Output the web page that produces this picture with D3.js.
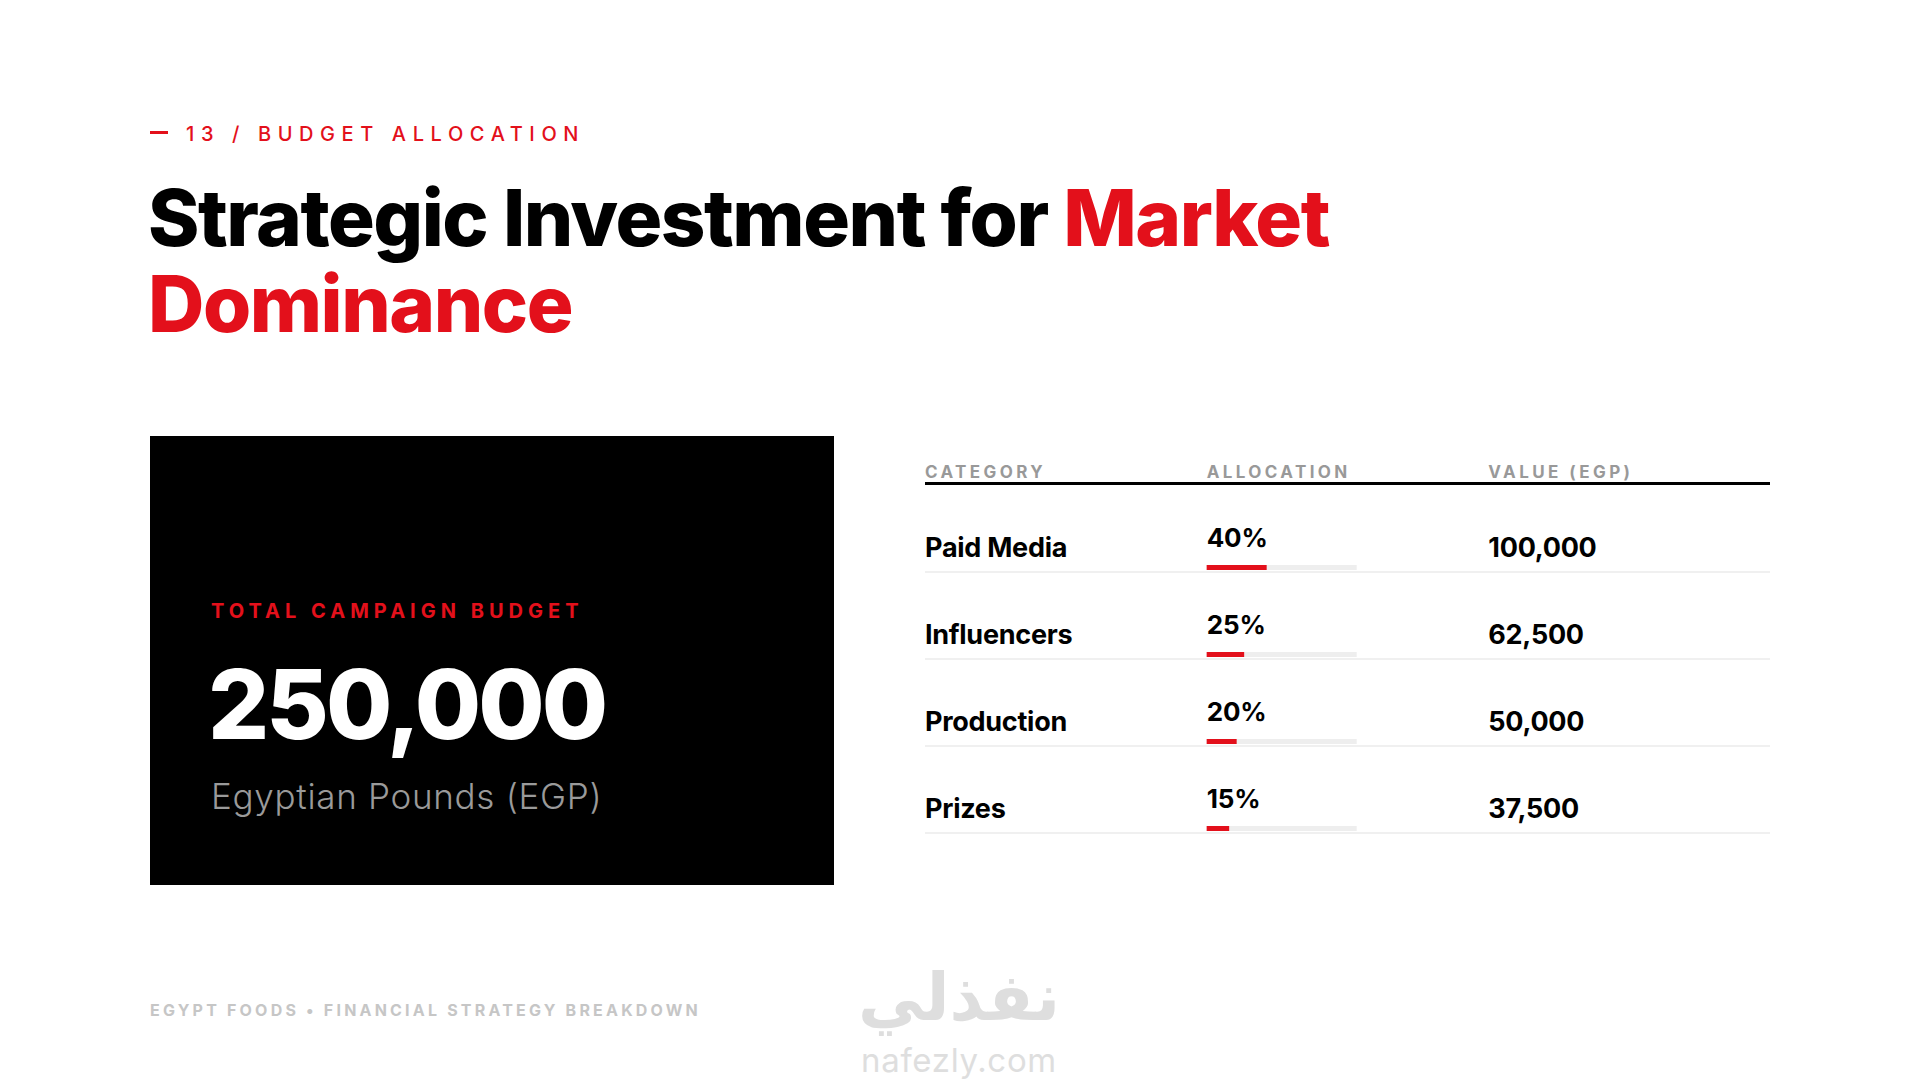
<!DOCTYPE html>
<html>
<head>
<meta charset="utf-8">
<script src="https://cdn.jsdelivr.net/npm/d3@7"></script>
<style>
  html, body { margin: 0; padding: 0; background: #fff; }
  svg { display: block; font-family: Inter, "Noto Sans", sans-serif; }
</style>
</head>
<body>
<div id="chart"></div>
<script>
// Data
var categories = ["Paid Media", "Influencers", "Production", "Prizes"];
var shares = [40, 25, 20, 15];
var values = [100000, 62500, 50000, 37500];
var columns = ["CATEGORY", "ALLOCATION", "VALUE (EGP)"];
var totalBudget = 250000;

var RED = "#E3101B";
var W = 1920, H = 1080;

var svg = d3.select("#chart").append("svg")
   .attr("width", W)
   .attr("height", H);

// Section label
svg.append("rect")
   .attr("x", 150).attr("y", 131)
   .attr("width", 18).attr("height", 3)
   .attr("fill", RED);
svg.append("text")
   .attr("x", 186).attr("y", 141)
   .attr("font-size", 20)
   .attr("font-weight", 500)
   .attr("letter-spacing", "0.33em")
   .attr("fill", RED)
   .text("13 / BUDGET ALLOCATION");

// Title
var title = svg.append("text")
   .attr("font-size", 78)
   .attr("font-weight", 800)
   .attr("letter-spacing", "-0.019em");
title.append("tspan").attr("x", 148).attr("y", 246)
   .attr("fill", "#000").text("Strategic Investment for ");
title.append("tspan").attr("fill", RED).text("Market");
title.append("tspan").attr("x", 148).attr("y", 332)
   .attr("fill", RED).text("Dominance");

// Total budget card
svg.append("rect")
   .attr("x", 150).attr("y", 436)
   .attr("width", 684).attr("height", 449)
   .attr("fill", "#000");
svg.append("text")
   .attr("x", 211).attr("y", 618)
   .attr("font-size", 20)
   .attr("font-weight", 700)
   .attr("letter-spacing", "0.25em")
   .attr("fill", RED)
   .text("TOTAL CAMPAIGN BUDGET");
svg.append("text")
   .attr("x", 208).attr("y", 739)
   .attr("font-size", 96)
   .attr("font-weight", 800)
   .attr("letter-spacing", "-0.03em")
   .attr("fill", "#fff")
   .text(d3.format(",")(totalBudget));
svg.append("text")
   .attr("x", 211).attr("y", 809)
   .attr("font-size", 35)
   .attr("font-weight", 300)
   .attr("letter-spacing", "0.02em")
   .attr("fill", "#9a9a9a")
   .text("Egyptian Pounds (EGP)");

// Table scales
var colX = d3.scaleBand().domain(columns).range([925, 1770]);
var rowY = d3.scaleBand().domain(categories).range([485, 833]);
var barW = d3.scaleLinear().domain([0, 100]).range([0, 150]);
var fmt = d3.format(",");

// Header
svg.selectAll(".colhead")
   .data(columns)
   .enter().append("text")
   .attr("class", "colhead")
   .attr("x", function(d) { return colX(d); })
   .attr("y", 478)
   .attr("font-size", 17)
   .attr("font-weight", 700)
   .attr("letter-spacing", "0.2em")
   .attr("fill", "#999")
   .text(function(d) { return d; });
svg.append("rect")
   .attr("x", colX.range()[0]).attr("y", 482)
   .attr("width", colX.range()[1] - colX.range()[0]).attr("height", 3)
   .attr("fill", "#000");

// Rows
var rows = svg.selectAll(".row")
   .data(categories.map(function(c, i) {
      return { cat: c, share: shares[i], value: values[i] };
   }))
   .enter().append("g")
   .attr("class", "row")
   .attr("transform", function(d) {
      return "translate(0," + (rowY(d.cat) + rowY.bandwidth()) + ")";
   });

rows.append("rect")
   .attr("x", colX.range()[0]).attr("y", -1)
   .attr("width", colX.range()[1] - colX.range()[0]).attr("height", 2)
   .attr("fill", "#f0f0f0");

rows.append("text")
   .attr("x", colX(columns[0]))
   .attr("y", -15)
   .attr("font-size", 27)
   .attr("font-weight", 700)
   .attr("letter-spacing", "-0.01em")
   .attr("fill", "#000")
   .text(function(d) { return d.cat; });

rows.append("text")
   .attr("x", colX(columns[1]))
   .attr("y", -25)
   .attr("font-size", 26)
   .attr("font-weight", 700)
   .attr("letter-spacing", "-0.005em")
   .attr("fill", "#000")
   .text(function(d) { return d.share + "%"; });

rows.append("rect")
   .attr("x", colX(columns[1])).attr("y", -7)
   .attr("width", barW(100)).attr("height", 5)
   .attr("fill", "#eeeeee");
rows.append("rect")
   .attr("x", colX(columns[1])).attr("y", -7)
   .attr("width", function(d) { return barW(d.share); }).attr("height", 5)
   .attr("fill", RED);

rows.append("text")
   .attr("x", colX(columns[2]))
   .attr("y", -15)
   .attr("font-size", 27)
   .attr("font-weight", 700)
   .attr("letter-spacing", "-0.01em")
   .attr("fill", "#000")
   .text(function(d) { return fmt(d.value); });

// Footer
svg.append("text")
   .attr("x", 150).attr("y", 1016)
   .attr("font-size", 16)
   .attr("font-weight", 700)
   .attr("letter-spacing", "0.2em")
   .attr("fill", "#c6c6c6")
   .text("EGYPT FOODS \u2022 FINANCIAL STRATEGY BREAKDOWN");

// Watermark
svg.append("text")
   .attr("x", 959).attr("y", 1020)
   .attr("text-anchor", "middle")
   .attr("font-family", "'DejaVu Sans', sans-serif")
   .attr("font-size", 66)
   .attr("font-weight", 700)
   .attr("fill", "#dedede")
   .text("نفذلي");
svg.append("text")
   .attr("x", 959).attr("y", 1072)
   .attr("text-anchor", "middle")
   .attr("font-size", 33)
   .attr("font-weight", 400)
   .attr("letter-spacing", "0.02em")
   .attr("fill", "#dedede")
   .text("nafezly.com");
</script>
</body>
</html>
